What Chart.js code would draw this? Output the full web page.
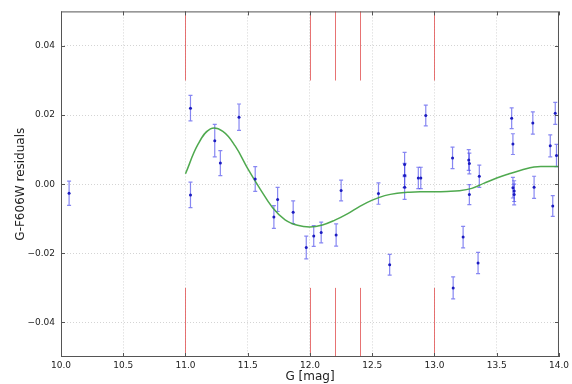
<!DOCTYPE html>
<html>
<head>
<meta charset="utf-8">
<script src="https://cdn.jsdelivr.net/npm/chart.js@4.4.1/dist/chart.umd.min.js"></script>
<style>
  html, body { margin: 0; padding: 0; background: #fff; }
  canvas { display: block; }
</style>
</head>
<body>
<canvas id="graf" width="572" height="384"></canvas>
<script>
// measured residuals
const ptX = [10.065, 11.04, 11.04, 11.235, 11.28, 11.43, 11.56, 11.71, 11.74, 11.865,
    11.97, 12.03, 12.09, 12.21, 12.25, 12.55, 12.64, 12.76, 12.76, 12.76,
    12.87, 12.89, 12.93, 13.145, 13.15, 13.23, 13.275, 13.28, 13.28, 13.35,
    13.36, 13.62, 13.63, 13.63, 13.64, 13.64, 13.79, 13.80, 13.93, 13.95,
    13.97, 13.98];
const ptY = [-0.0026, 0.0220, -0.0031, 0.0126, 0.0061, 0.0194, 0.0015, -0.0095, -0.0044, -0.0081,
    -0.0183, -0.0150, -0.0140, -0.0147, -0.0018, -0.0027, -0.0233, 0.0057, 0.0025, -0.0009,
    0.0018, 0.0018, 0.0199, 0.0076, -0.0300, -0.0153, 0.0070, 0.0060, -0.0030, -0.0228,
    0.0023, 0.0191, 0.0116, -0.0010, -0.0020, -0.0030, 0.0177, -0.0009, 0.0111, -0.0063,
    0.0205, 0.0083];
const ptErr = [0.0035, 0.0037, 0.0037, 0.0047, 0.0036, 0.0038, 0.0036, 0.0033, 0.0035, 0.0033,
    0.0033, 0.0030, 0.0030, 0.0032, 0.0030, 0.0031, 0.0030, 0.0035, 0.0035, 0.0035,
    0.0031, 0.0031, 0.0030, 0.0031, 0.0032, 0.0031, 0.0030, 0.0030, 0.0029, 0.0031,
    0.0032, 0.0030, 0.0030, 0.0030, 0.0030, 0.0030, 0.0032, 0.0032, 0.0032, 0.0030,
    0.0032, 0.0032];

// fitted curve
const fitX = [11.0, 11.1, 11.2, 11.3, 11.4, 11.5, 11.6, 11.7, 11.8, 11.9, 12.0,
    12.1, 12.2, 12.3, 12.4, 12.5, 12.6, 12.7, 12.8, 12.9, 13.0, 13.1, 13.2,
    13.3, 13.4, 13.5, 13.6, 13.7, 13.8, 13.9, 14.0];
const fitY = [0.0030, 0.0115, 0.0160, 0.0153, 0.0110, 0.0045, -0.0014, -0.0068, -0.0103, -0.0119, -0.0124,
    -0.0118, -0.0104, -0.0086, -0.0064, -0.0046, -0.0033, -0.0026, -0.0023, -0.0022, -0.0022, -0.0021, -0.0019,
    -0.0012, 0.0003, 0.0018, 0.0030, 0.0041, 0.0050, 0.0051, 0.0051];

// red marker lines (top and bottom stubs)
const vlineX = [11.0, 12.0, 12.2, 12.4, 13.0];
const vlineTop = [0.03, 0.05];
const vlineBottom = [-0.05, -0.03];

const xTicks = [10.0, 10.5, 11.0, 11.5, 12.0, 12.5, 13.0, 13.5, 14.0];
const yTicks = [-0.04, -0.02, 0.00, 0.02, 0.04];

const errorBars = {
    id: 'errorBars',
    beforeDatasetsDraw: function (chart) {
        const ctx = chart.ctx;
        const xs = chart.scales.x, ys = chart.scales.y;
        ctx.save();
        // red stubs
        ctx.strokeStyle = 'rgba(225, 80, 80, 0.8)';
        ctx.lineWidth = 1;
        ctx.beginPath();
        vlineX.forEach(function (x) {
            const px = Math.round(xs.getPixelForValue(x)) + 0.5;
            ctx.moveTo(px, ys.getPixelForValue(vlineTop[0]));
            ctx.lineTo(px, ys.getPixelForValue(vlineTop[1]));
            ctx.moveTo(px, ys.getPixelForValue(vlineBottom[0]));
            ctx.lineTo(px, ys.getPixelForValue(vlineBottom[1]));
        });
        ctx.stroke();
        // error bars
        ctx.strokeStyle = 'rgba(70, 70, 235, 0.65)';
        ctx.lineWidth = 1.2;
        for (let i = 0; i < ptX.length; i++) {
            const px = xs.getPixelForValue(ptX[i]);
            const top = ys.getPixelForValue(ptY[i] + ptErr[i]);
            const bot = ys.getPixelForValue(ptY[i] - ptErr[i]);
            ctx.beginPath();
            ctx.moveTo(px, top); ctx.lineTo(px, bot);
            ctx.moveTo(px - 2, top); ctx.lineTo(px + 2, top);
            ctx.moveTo(px - 2, bot); ctx.lineTo(px + 2, bot);
            ctx.stroke();
        }
        ctx.restore();
    },
    afterDraw: function (chart) {
        // axes frame with inward ticks
        const ctx = chart.ctx;
        const a = chart.chartArea;
        const xs = chart.scales.x, ys = chart.scales.y;
        ctx.save();
        ctx.strokeStyle = '#555';
        ctx.lineWidth = 1;
        ctx.strokeRect(a.left + 0.5, a.top + 0.5, a.right - a.left - 1, a.bottom - a.top - 1);
        ctx.beginPath();
        xTicks.forEach(function (v) {
            const px = Math.round(xs.getPixelForValue(v)) + 0.5;
            ctx.moveTo(px, a.bottom); ctx.lineTo(px, a.bottom - 4);
            ctx.moveTo(px, a.top); ctx.lineTo(px, a.top + 4);
        });
        yTicks.forEach(function (v) {
            const py = Math.round(ys.getPixelForValue(v)) + 0.5;
            ctx.moveTo(a.left, py); ctx.lineTo(a.left + 4, py);
            ctx.moveTo(a.right, py); ctx.lineTo(a.right - 4, py);
        });
        ctx.stroke();
        ctx.restore();
    }
};

const ctx = document.getElementById('graf').getContext('2d');
const config = {
    type: 'scatter',
    data: {
        datasets: [{
            label: 'fit',
            data: fitX.map((x, i) => ({x: x, y: fitY[i]})),
            showLine: true,
            borderColor: 'rgba(60, 160, 60, 0.9)',
            borderWidth: 1.5,
            pointRadius: 0,
            tension: 0.4,
            order: 2
        }, {
            label: 'residuals',
            data: ptX.map((x, i) => ({x: x, y: ptY[i]})),
            backgroundColor: '#1c1cc0',
            borderColor: '#1c1cc0',
            pointRadius: 1.5,
            borderWidth: 0,
            order: 1
        }]
    },
    options: {
        responsive: false,
        animation: false,
        devicePixelRatio: 1,
        layout: { padding: { top: 9, right: 7, bottom: 0, left: 0 } },
        plugins: {
            legend: { display: false },
            tooltip: { enabled: false }
        },
        scales: {
            x: {
                type: 'linear',
                min: 10,
                max: 14,
                afterBuildTicks: function (axis) { axis.ticks = xTicks.map(v => ({value: v})); },
                afterFit: function (axis) { axis.height = 27; },
                ticks: {
                    padding: 3,
                    color: '#222',
                    font: { family: 'DejaVu Sans', size: 9 },
                    maxRotation: 0,
                    callback: v => v.toFixed(1)
                },
                grid: { color: '#d4d4d4', drawTicks: false, lineWidth: 1 },
                border: { display: false, dash: [1, 2] },
                title: {
                    display: true,
                    text: 'G [mag]',
                    color: '#222',
                    font: { family: 'DejaVu Sans', size: 12 },
                    padding: { top: 0, bottom: 0 }
                }
            },
            y: {
                type: 'linear',
                min: -0.05,
                max: 0.05,
                afterBuildTicks: function (axis) { axis.ticks = yTicks.map(v => ({value: v})); },
                afterFit: function (axis) { axis.width = 61; },
                ticks: {
                    padding: 6,
                    color: '#222',
                    font: { family: 'DejaVu Sans', size: 9 },
                    callback: v => (v < -1e-9 ? '\u2212' + Math.abs(v).toFixed(2) : Math.abs(v).toFixed(2))
                },
                grid: { color: '#d4d4d4', drawTicks: false, lineWidth: 1 },
                border: { display: false, dash: [1, 2] },
                title: {
                    display: true,
                    text: 'G-F606W residuals',
                    color: '#222',
                    font: { family: 'DejaVu Sans', size: 12 },
                    padding: { top: 14, bottom: 0 }
                }
            }
        }
    },
    plugins: [errorBars]
};

new Chart(ctx, config);
</script>
</body>
</html>
